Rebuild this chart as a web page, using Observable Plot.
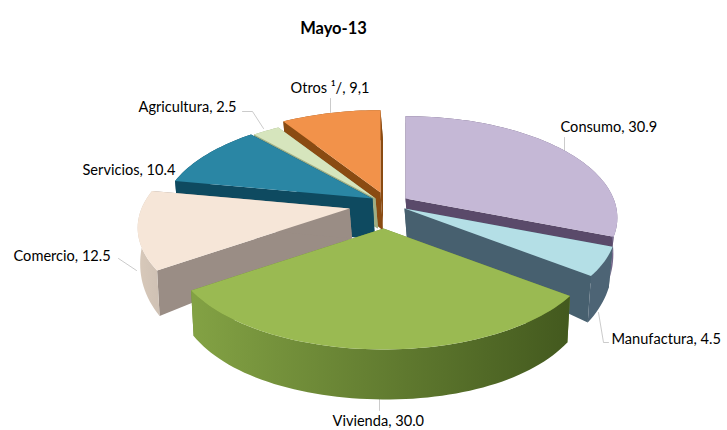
<!DOCTYPE html>
<html><head><meta charset="utf-8">
<script src="https://cdn.jsdelivr.net/npm/d3@7"></script>
<script src="https://cdn.jsdelivr.net/npm/@observablehq/plot@0.6"></script>
<style>
html,body{margin:0;padding:0;background:#fff}
#title{height:40px;text-align:center;font:bold 16.5px Lato,sans-serif;line-height:56px;padding-right:60px;box-sizing:border-box;width:727px;color:#000}
svg{display:block}
</style></head><body>
<div id="title">Mayo-13</div>
<div id="chart"></div>
<script>
const categories = ["Consumo","Manufactura","Vivienda","Comercio","Servicios","Agricultura","Otros"];
const values = [30.9,4.5,30.0,12.5,10.4,2.5,9.1];
const valueLabels = ["30.9","4.5","30.0","12.5","10.4","2.5","9,1"];
const topColors = ["#c5b8d6","#b4dfe6","#9aba52","#f6e6d8","#2a86a4","#d6e5bd","#f2924a"];
const wallColors = ["#5a4a6a","#47606f","#6d8a35","#9a8d85","#0e4a60","#9fae84","#8a4b12"];
const rimLeft = ["#5a4a6a","#4d6475","#83a244","#d8c9ba","#0e4a60","#9fae84","#8a4b12"];
const rimRight = ["#75688c","#4d6475","#43591e","#cfc1b4","#0e4a60","#9fae84","#8a4b12"];

// layout of the exploded 3-D pie (page pixels)
const center = [383, 203], radius = 208, tilt = 98, persp = 0.19;
const pull = [[22,-5],[21,5],[0,25],[-34,5],[-11,-5],[-8,-5],[-3,-11]];
const apexDepth = [30,30,30,30,42,30,38];
const paintOrder = [6,5,4,0,3,1,2];
const labelAnchors = [[560,127],[611,339],[332,421],[13,256],[82,170],[138,107],[290,88]];
const leaders = [
  [[564,137],[564,150]],
  [[598,312],[603,342],[608,342]],
  [[379,397],[379,410]],
  [[118,258],[136,270]],
  [[242,111],[252,111],[263,128]],
  [[330,98],[330,112]]
];

const arcs = d3.pie().sort(null).value(d => d)(values);
const disc = (i, a) => {
  const X = Math.sin(a), Y = -Math.cos(a), s = 1 / (1 - persp * Y);
  return {x: center[0] + pull[i][0] + s * radius * X, y: center[1] + pull[i][1] + s * tilt * Y, Y};
};
const apex = i => ({x: center[0] + pull[i][0], y: center[1] + pull[i][1], d: apexDepth[i]});
const depth = p => p.d ?? 30 + 20 * Math.sin(Math.max(0, p.Y) * Math.PI / 2);
const lean = x => x < 400 ? 2.5 : 2.5 - 0.03 * (x - 400);
const lower = p => [p.x + lean(p.x), p.y + depth(p)];
const upper = p => [p.x, p.y];

const rows = [];
let id = 0;
const face = (pts, c) => { id++; for (const [x, y] of pts) rows.push({x, y, id, c}); };
for (const i of paintOrder) {
  const {startAngle: a0, endAngle: a1} = arcs[i];
  const n = Math.max(3, Math.ceil((a1 - a0) / 0.03));
  const ang = d3.range(n + 1).map(k => a0 + (a1 - a0) * k / n);
  const rim = ang.map(a => disc(i, a));
  const o = apex(i);
  face([upper(o), upper(rim[0]), lower(rim[0]), lower(o)], wallColors[i]);
  face([upper(o), upper(rim[n]), lower(rim[n]), lower(o)], wallColors[i]);
  face([...rim.map(upper), ...rim.slice().reverse().map(lower)], `url(#rim${i})`);
  face([upper(o), ...rim.map(upper)], topColors[i]);
}

const labels = categories.map((c, i) => ({
  text: `${c === "Otros" ? "Otros ¹/" : c}, ${valueLabels[i]}`,
  x: labelAnchors[i][0], y: labelAnchors[i][1]
}));
const leaderRows = leaders.flatMap((l, j) => l.map(([x, y]) => ({x, y, j})));

const plot = Plot.plot({
  width: 727, height: 390,
  margin: 0,
  x: {domain: [0, 727], range: [0, 727], axis: null},
  y: {domain: [40, 430], range: [0, 390], axis: null},
  color: {type: "identity"},
  style: {background: "#fff"},
  marks: [
    Plot.line(leaderRows, {x: "x", y: "y", z: "j", stroke: "#b5b5b5", strokeWidth: 0.7}),
    Plot.line(rows, {x: "x", y: "y", z: "id", fill: "c", curve: "linear-closed"}),
    Plot.text(labels, {x: "x", y: "y", text: "text", textAnchor: "start", fontSize: 14.6, fontFamily: "Lato", fill: "#000"})
  ]
});
const defs = d3.select(plot).insert("defs", ":first-child");
categories.forEach((_, i) => {
  const g = defs.append("linearGradient").attr("id", `rim${i}`);
  g.append("stop").attr("offset", "0%").attr("stop-color", rimLeft[i]);
  g.append("stop").attr("offset", "100%").attr("stop-color", rimRight[i]);
});
d3.select(plot).selectAll('g[aria-label="line"]').style("filter", "blur(0.5px)");
document.getElementById("chart").appendChild(plot);
</script>
</body></html>
